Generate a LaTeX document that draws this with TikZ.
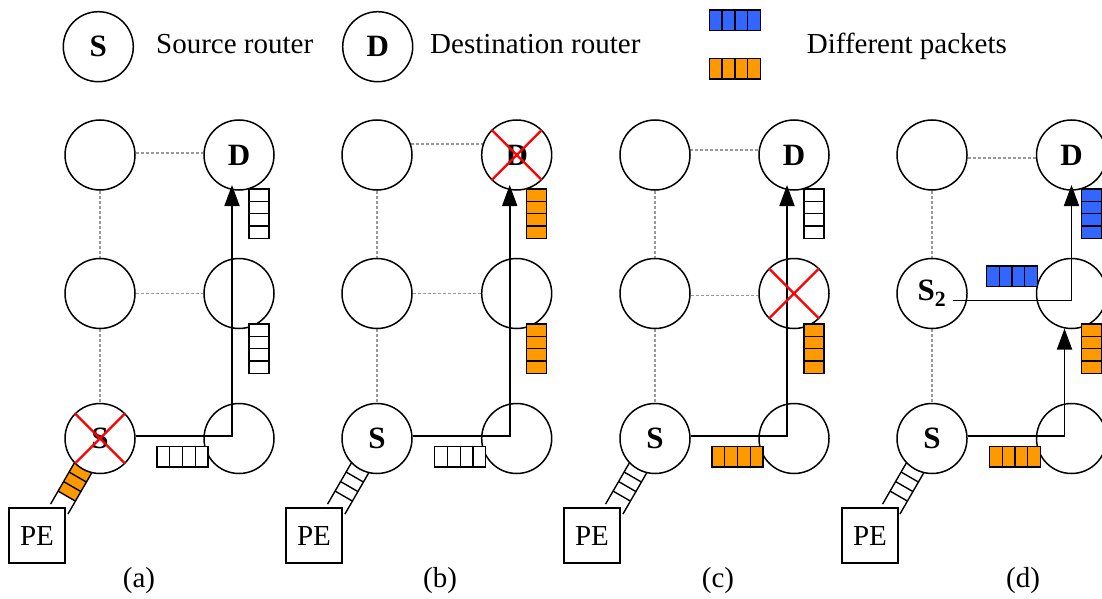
\documentclass[tikz,border=0pt]{standalone}
\usepackage{fontspec}
\setmainfont{Liberation Serif}
\usetikzlibrary{arrows.meta,calc,backgrounds}

\definecolor{pkblue}{HTML}{3366FF}
\definecolor{pkorange}{HTML}{FF9900}
\definecolor{linkgray}{HTML}{999999}

\tikzset{
  router/.style={circle, draw, fill=white, line width=1.5pt, minimum size=70pt,
    inner sep=0pt, font=\fontsize{31}{34}\selectfont\bfseries},
  pebox/.style={draw, fill=white, line width=1.4pt, minimum width=56pt,
    minimum height=55pt, inner sep=0pt, font=\fontsize{29}{32}\selectfont},
  caption/.style={font=\fontsize{29}{32}\selectfont, inner sep=0pt},
  link/.style={draw=linkgray, line width=1.3pt, dash pattern=on 3pt off 2pt},
  flow/.style={draw, line width=1.8pt, -{Triangle[length=21pt,width=15pt]}},
  pktline/.style={draw, line width=1.4pt},
  failmark/.style={draw=red, line width=2.4pt},
  % horizontal packet of four flits, top-left corner at the origin
  pics/hpkt/.style={code={
    \draw[pktline, fill=#1] (0,0) rectangle (51,20.5);
    \foreach \k in {1,2,3} \draw[pktline] (12.75*\k,0) -- (12.75*\k,20.5);
  }},
  % vertical packet of four flits, top-left corner at the origin
  pics/vpkt/.style={code={
    \draw[pktline, fill=#1] (0,0) rectangle (20,49.5);
    \foreach \k in {1,2,3} \draw[pktline] (0,12.375*\k) -- (20,12.375*\k);
  }},
  % injection channel between the PE and its router, running along +x
  pics/ladder/.style={code={
    \fill[#1] (22.5,-10) rectangle (66.5,10);
    \draw[pktline] (22.5,-10) -- (81.5,-10) (22.5,10) -- (81.5,10);
    \foreach \t in {22.5,33.5,44.5,55.5,66.5} \draw[pktline] (\t,-10) -- (\t,10);
  }},
  % failed router
  pics/failx/.style={code={
    \draw[failmark] (-25,-25) -- (25,25) (25,-25) -- (-25,25);
  }},
}

\begin{document}
\begin{tikzpicture}[x=1pt, y=-1pt]
\useasboundingbox (0,0) rectangle (1102,599);

% ---------------- legend ----------------
\node[router] (lg-s) at (98.3,46.7) {S};
\node[caption, anchor=base west] (lg-st) at (156,53.3) {Source router};
\node[router] (lg-d) at (377.7,46.7) {D};
\node[caption, anchor=base west] (lg-dt) at (430,53.3) {Destination router};
\pic at (709.3,10) {hpkt=pkblue};
\pic at (709.3,58.5) {hpkt=pkorange};
\node[caption, anchor=base west] (lg-pt) at (806.7,54) {Different packets};

% ---------------- panel (a) ----------------
\node[router] (a-tl) at (100,155) {};
\node[router] (a-tr) at (239,155) {D};
\node[router] (a-ml) at (100,293.5) {};
\node[router] (a-mr) at (239,293.5) {};
\node[router] (a-bl) at (100,438.5) {S};
\node[router] (a-br) at (239,438.5) {};
\node[pebox] (a-pe) at (37,535.5) {PE};
\node[caption] (a-cap) at (139,581) {(a)};

% ---------------- panel (b) ----------------
\node[router] (b-tl) at (377,155) {};
\node[router] (b-tr) at (516.7,155) {D};
\node[router] (b-ml) at (377,293.5) {};
\node[router] (b-mr) at (516.7,293.5) {};
\node[router] (b-bl) at (377,438.5) {S};
\node[router] (b-br) at (516.7,438.5) {};
\node[pebox] (b-pe) at (314,535.5) {PE};
\node[caption] (b-cap) at (440,581) {(b)};

% ---------------- panel (c) ----------------
\node[router] (c-tl) at (655,155) {};
\node[router] (c-tr) at (794,155) {D};
\node[router] (c-ml) at (655,293.5) {};
\node[router] (c-mr) at (794,293.5) {};
\node[router] (c-bl) at (655,438.5) {S};
\node[router] (c-br) at (794,438.5) {};
\node[pebox] (c-pe) at (592,535.5) {PE};
\node[caption] (c-cap) at (718,581) {(c)};

% ---------------- panel (d) ----------------
\node[router] (d-tl) at (932,155) {};
\node[router] (d-tr) at (1071.5,155) {D};
\node[router] (d-ml) at (932,293.5) {S\textsubscript{2}};
\node[router] (d-mr) at (1071.5,293.5) {};
\node[router] (d-bl) at (932,438.5) {S};
\node[router] (d-br) at (1071.5,438.5) {};
\node[pebox] (d-pe) at (870,535.5) {PE};
\node[caption] (d-cap) at (1023,581) {(d)};

% ---------------- page, idle mesh links and injection channels ----------------
\begin{scope}[on background layer]
  \fill[white] (0,0) rectangle (1102,599);

  \draw[link] (a-tl.3) -- (a-tr.177);
  \draw[link] (a-ml) -- (a-mr);
  \draw[link] (a-tl) -- (a-ml);
  \draw[link] (a-ml) -- (a-bl);

  \draw[link] (b-tl.18) -- (b-tr.162);
  \draw[link] (b-ml) -- (b-mr);
  \draw[link] (b-tl) -- (b-ml);
  \draw[link] (b-ml) -- (b-bl);

  \draw[link] (c-tl.8) -- (c-tr.172);
  \draw[link] (c-ml.-3) -- (c-mr.183);
  \draw[link] (c-tl) -- (c-ml);
  \draw[link] (c-ml) -- (c-bl);

  \draw[link] (d-tl.-5) -- (d-tr.185);
  \draw[link] (d-tl) -- (d-ml);
  \draw[link] (d-ml) -- (d-bl);

  \path (a-bl.center) pic[rotate=240] {ladder=pkorange};
  \path (b-bl.center) pic[rotate=240] {ladder=white};
  \path (c-bl.center) pic[rotate=240] {ladder=white};
  \path (d-bl.center) pic[rotate=240] {ladder=white};
\end{scope}

% ---------------- routes ----------------
\draw[flow] ([yshift=2.5pt]a-bl.east) -| ($(a-tr.center)+(-7,30)$);
\draw[flow] ([yshift=2.5pt]b-bl.east) -| ($(b-tr.center)+(-7,30)$);
\draw[flow] ([yshift=2.5pt]c-bl.east) -| ($(c-tr.center)+(-7,30)$);
\draw[flow] ([yshift=2.5pt]d-bl.east) -| ($(d-mr.center)+(-7,35)$);
\draw[flow] ($(d-ml.center)+(21,7)$) -| ($(d-tr.center)+(0,30)$);

% ---------------- packets in flight ----------------
\pic at (157,446.5) {hpkt=white};
\pic at (249,189) {vpkt=white};
\pic at (249,324) {vpkt=white};

\pic at (434.7,446.5) {hpkt=white};
\pic at (526.7,189) {vpkt=pkorange};
\pic at (526.7,324) {vpkt=pkorange};

\pic at (712,446.5) {hpkt=pkorange};
\pic at (804,189) {vpkt=white};
\pic at (804,324) {vpkt=pkorange};

\pic at (989.5,446.5) {hpkt=pkorange};
\pic at (986.5,266) {hpkt=pkblue};
\pic at (1081.5,189) {vpkt=pkblue};
\pic at (1081.5,324) {vpkt=pkorange};

% ---------------- failed routers ----------------
\pic at (a-bl.center) {failx};
\pic at (b-tr.center) {failx};
\pic at (c-mr.center) {failx};
\end{tikzpicture}
\end{document}
